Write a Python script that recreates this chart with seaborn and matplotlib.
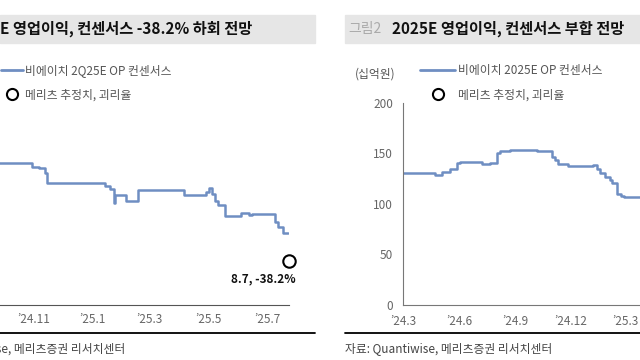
import matplotlib
matplotlib.use("Agg")
import pandas as pd
import matplotlib.pyplot as plt
import matplotlib.dates as mdates
from matplotlib.lines import Line2D
from matplotlib.patches import Rectangle
from matplotlib.ticker import FuncFormatter, MultipleLocator
import seaborn as sns

# 그림1: 비에이치 2Q25E OP 컨센서스 (십억원), 변경 시점 기준
q_dates = ["2024-09-15", "2024-10-30", "2024-11-06", "2024-11-12", "2024-11-15",
           "2025-01-14", "2025-01-19", "2025-01-23", "2025-01-24", "2025-02-04",
           "2025-02-17", "2025-04-05", "2025-04-28", "2025-05-01", "2025-05-04",
           "2025-05-07", "2025-05-11", "2025-05-18", "2025-06-03", "2025-06-12",
           "2025-06-15", "2025-07-09", "2025-07-12", "2025-07-17", "2025-07-22"]
q_values = [28.2, 27.4, 27.1, 26.2, 24.2,
            23.6, 22.9, 20.2, 21.8, 20.5,
            22.8, 21.8, 22.3, 23.1, 22.0,
            20.5, 19.8, 17.6, 18.2, 17.8,
            18.0, 16.4, 15.5, 14.3, 14.3]
q_est_date = "2025-07-23"
q_est = 8.7
q_gap = -38.2

# 그림2: 비에이치 2025E OP 컨센서스 (십억원)
y_dates = ["2024-03-01", "2024-04-22", "2024-05-04", "2024-05-17", "2024-05-28",
           "2024-06-02", "2024-07-08", "2024-07-21", "2024-08-02", "2024-08-07",
           "2024-08-23", "2024-10-06", "2024-10-31", "2024-11-05", "2024-11-10",
           "2024-11-26", "2025-01-06", "2025-01-13", "2025-01-18", "2025-01-26",
           "2025-02-03", "2025-02-06", "2025-02-14", "2025-02-22", "2025-02-27",
           "2025-04-15"]
y_values = [131, 129, 132, 135, 141,
            142, 140, 141, 150, 152,
            153, 152, 147, 144, 140,
            138, 139, 135, 131, 127,
            124, 121, 110, 108, 106.5,
            106.5]

LINE = "#6F8EC2"
GRAY = "#666666"
FS = 8.5

sns.set_style("white")
plt.rcParams["font.family"] = ["Noto Sans CJK KR", "DejaVu Sans"]

fig = plt.figure(figsize=(6.4, 3.6), dpi=100)


def month_fmt(v, _):
    d = mdates.num2date(v)
    if d < mdates.num2date(mdates.datestr2num("2024-01-01")):
        return ""
    return f"\u2019{d.year % 100}.{d.month}"


def month_fmt_left(v, _):
    d = mdates.num2date(v)
    if d.year == 2024 and d.month < 11:
        return ""
    return f"\u2019{d.year % 100}.{d.month}"


# title bars
fig.add_artist(Rectangle((0, 0.8806), 0.4922, 0.0777, transform=fig.transFigure,
                         color="#E6E6E6", zorder=0))
fig.add_artist(Rectangle((0.539, 0.8806), 0.47, 0.0777, transform=fig.transFigure,
                         color="#E6E6E6", zorder=0))
fig.text(0.394, 0.919, "그림1  2Q25E 영업이익, 컨센서스 -38.2% 하회 전망", ha="right",
         va="center", fontsize=11, fontweight="bold", color="#111111")
fig.text(0.544, 0.919, "그림2", ha="left", va="center", fontsize=10, color="#AAAAAA")
fig.text(0.6125, 0.919, "2025E 영업이익, 컨센서스 부합 전망", ha="left", va="center",
         fontsize=11, fontweight="bold", color="#111111")

# left panel
ax1 = fig.add_axes([-0.1328, 0.1528, 0.5844, 0.5611])
qdf = pd.DataFrame({"date": pd.to_datetime(q_dates), "op": q_values})
sns.lineplot(data=qdf, x="date", y="op", ax=ax1, color=LINE, linewidth=1.8,
             drawstyle="steps-post")
est_x = pd.to_datetime(q_est_date)
ax1.scatter([est_x], [q_est], s=80, facecolor="white", edgecolor="black",
            linewidth=1.5, zorder=5, clip_on=False)
ax1.annotate(f"{q_est}, {q_gap}%", (est_x, q_est), xytext=(7, -18),
             textcoords="offset pixels", ha="right", va="center",
             fontsize=FS, fontweight="bold", color="#111111")
ax1.set_xlim(pd.Timestamp("2024-07-01"), pd.Timestamp("2025-07-23"))
ax1.set_ylim(0, 40)
ax1.xaxis.set_major_locator(mdates.MonthLocator(bymonth=[1, 3, 5, 7, 9, 11]))
ax1.xaxis.set_major_formatter(FuncFormatter(month_fmt_left))
ax1.set_xlabel("")
ax1.set_ylabel("")
for s in ["top", "right", "left"]:
    ax1.spines[s].set_visible(False)
ax1.spines["bottom"].set_color("#555555")
ax1.tick_params(axis="x", direction="inout", length=5, color="#555555",
                labelsize=FS, labelcolor=GRAY, pad=3)
ax1.tick_params(axis="y", left=False, labelleft=False)

handles1 = [Line2D([], [], color=LINE, linewidth=2),
            Line2D([], [], linestyle="", marker="o", markersize=8,
                   markerfacecolor="white", markeredgecolor="black", markeredgewidth=1.5)]
ax1.legend(handles1, ["비에이치 2Q25E OP 컨센서스", "메리츠 추정치, 괴리율"],
           loc="upper left", bbox_to_anchor=(0.001, 0.822), bbox_transform=fig.transFigure,
           frameon=False, fontsize=FS, handlelength=1.9, handletextpad=0.2,
           labelspacing=0.95, borderpad=0, borderaxespad=0, labelcolor="#555555")

# right panel
ax2 = fig.add_axes([0.6297, 0.1528, 0.4938, 0.5611])
ydf = pd.DataFrame({"date": pd.to_datetime(y_dates), "op": y_values})
sns.lineplot(data=ydf, x="date", y="op", ax=ax2, color=LINE, linewidth=1.8,
             drawstyle="steps-post")
ax2.set_xlim(pd.Timestamp("2024-03-01"), pd.Timestamp("2025-08-01"))
ax2.set_ylim(0, 200)
ax2.yaxis.set_major_locator(MultipleLocator(50))
ax2.xaxis.set_major_locator(mdates.MonthLocator(bymonth=[3, 6, 9, 12]))
ax2.xaxis.set_major_formatter(FuncFormatter(month_fmt))
ax2.set_xlabel("")
ax2.set_ylabel("")
for s in ["top", "right"]:
    ax2.spines[s].set_visible(False)
for s in ["left", "bottom"]:
    ax2.spines[s].set_color("#777777")
ax2.tick_params(direction="out", length=4, color="#777777", labelsize=FS,
                labelcolor=GRAY, pad=3)

handles2 = [Line2D([], [], color=LINE, linewidth=2),
            Line2D([], [], linestyle="", marker="o", markersize=8,
                   markerfacecolor="white", markeredgecolor="black", markeredgewidth=1.5)]
ax2.legend(handles2, ["비에이치 2025E OP 컨센서스", "메리츠 추정치, 괴리율"],
           loc="upper left", bbox_to_anchor=(0.656, 0.822), bbox_transform=fig.transFigure,
           frameon=False, fontsize=FS, handlelength=3.0, handletextpad=0.25,
           labelspacing=0.95, borderpad=0, borderaxespad=0, labelcolor="#555555")
fig.text(0.555, 0.794, "(십억원)", ha="left", va="center", fontsize=FS, color="#555555")

# bottom rules and sources
fig.add_artist(Line2D([0, 0.4922], [0.075, 0.075], transform=fig.transFigure,
                      color="black", linewidth=1.3))
fig.add_artist(Line2D([0.539, 1.0], [0.075, 0.075], transform=fig.transFigure,
                      color="black", linewidth=1.3))
fig.text(0.195, 0.033, "자료: Quantiwise, 메리츠증권 리서치센터", ha="right", va="center",
         fontsize=FS, color="#444444")
fig.text(0.539, 0.033, "자료: Quantiwise, 메리츠증권 리서치센터", ha="left", va="center",
         fontsize=FS, color="#444444")

fig.savefig("out.png", dpi=100)
